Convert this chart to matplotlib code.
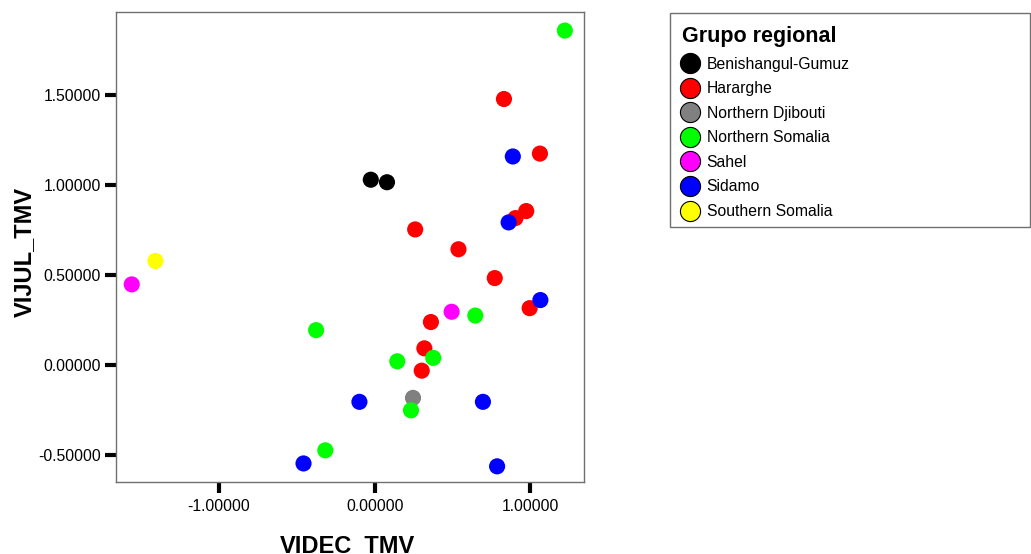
import matplotlib
matplotlib.use("Agg")
import matplotlib.pyplot as plt
from matplotlib.lines import Line2D
from matplotlib.patches import Rectangle

plt.rcParams['font.family'] = ['Liberation Sans', 'DejaVu Sans']

groups = ["Benishangul-Gumuz", "Hararghe", "Northern Djibouti", "Northern Somalia",
          "Sahel", "Sidamo", "Southern Somalia"]
colors = ["#000000", "#ff0000", "#808080", "#00ff00", "#ff00ff", "#0000ff", "#ffff00"]

benishangul_x = [-0.025, 0.079]
benishangul_y = [1.030, 1.016]

hararghe_x = [0.830, 1.061, 0.973, 0.904, 0.260, 0.538, 0.771, 0.995, 0.361, 0.319, 0.302]
hararghe_y = [1.478, 1.175, 0.856, 0.817, 0.754, 0.644, 0.484, 0.317, 0.240, 0.094, -0.030]

djibouti_x = [0.246]
djibouti_y = [-0.181]

n_somalia_x = [1.221, 0.646, -0.376, 0.145, 0.376, 0.233, -0.317]
n_somalia_y = [1.858, 0.276, 0.195, 0.022, 0.041, -0.250, -0.472]

sahel_x = [-1.560, 0.494]
sahel_y = [0.449, 0.297]

sidamo_x = [0.887, 0.860, 1.064, -0.098, 0.695, -0.457, 0.786]
sidamo_y = [1.159, 0.793, 0.362, -0.203, -0.203, -0.545, -0.561]

s_somalia_x = [-1.408]
s_somalia_y = [0.579]

series_x = [benishangul_x, hararghe_x, djibouti_x, n_somalia_x, sahel_x, sidamo_x, s_somalia_x]
series_y = [benishangul_y, hararghe_y, djibouti_y, n_somalia_y, sahel_y, sidamo_y, s_somalia_y]

x_ticks = [-1.0, 0.0, 1.0]
y_ticks = [-0.5, 0.0, 0.5, 1.0, 1.5]

W, H = 1031, 554
fig = plt.figure(figsize=(W / 100, H / 100), dpi=100)
ax = fig.add_axes([116 / W, 1 - 482 / H, (584 - 116) / W, (482 - 12) / H])

for xs, ys, c in zip(series_x, series_y, colors):
    ax.scatter(xs, ys, s=135, color=c, edgecolors='none', zorder=3)

ax.set_xlim(-1.661, 1.344)
ax.set_ylim(-0.648, 1.961)
ax.set_xticks(x_ticks)
ax.set_yticks(y_ticks)
ax.set_xticklabels([f"{v:.5f}" for v in x_ticks])
ax.set_yticklabels([f"{v:.5f}" for v in y_ticks])
ax.tick_params(axis='both', direction='out', length=8, width=3, color='black',
               labelsize=11.3)
ax.tick_params(axis='x', pad=4)
ax.tick_params(axis='y', pad=3)
for sp in ax.spines.values():
    sp.set_color('#707070')
    sp.set_linewidth(1.0)

# axis titles
fig.text(347 / W, 1 - 552 / H, "VIDEC_TMV", fontsize=17, fontweight='bold',
         ha='center', va='baseline')
fig.text(31 / W, 1 - 252 / H, "VIJUL_TMV", fontsize=17, fontweight='bold',
         rotation=90, rotation_mode='anchor', ha='center', va='baseline')

# legend panel
fig.patches.append(Rectangle((670 / W, 1 - 227 / H), (1030 - 670) / W, (227 - 13) / H,
                             transform=fig.transFigure, fill=False,
                             edgecolor='#707070', linewidth=1.0))
handles = [Line2D([], [], linestyle='none', marker='o', markersize=14.5,
                  markerfacecolor=c, markeredgecolor='black', markeredgewidth=0.8)
           for c in colors]
leg = fig.legend(handles, groups, loc='upper left',
                 bbox_to_anchor=(682 / W, 1 - 26 / H), frameon=False,
                 title="Grupo regional", fontsize=11.3,
                 title_fontproperties={'weight': 'bold', 'size': 15.5},
                 handletextpad=0.57, labelspacing=0.61, borderpad=0,
                 handlelength=1.0, borderaxespad=0)
leg._legend_box.align = "left"

fig.savefig("out.png", dpi=100)
